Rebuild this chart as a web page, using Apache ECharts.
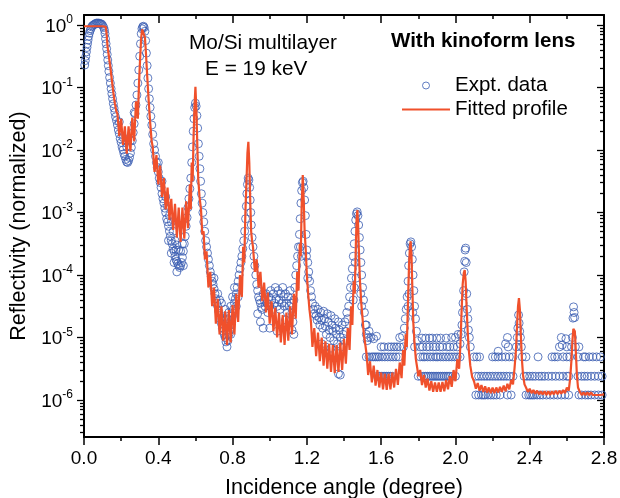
<!DOCTYPE html>
<html>
<head>
<meta charset="utf-8">
<script src="https://cdn.jsdelivr.net/npm/echarts@6/dist/echarts.min.js"></script>
<style>
html, body { margin: 0; padding: 0; background: #fff; }
#chart { width: 620px; height: 498px; }
</style>
</head>
<body>
<div id="chart"></div>
<script>
// values are [angle (deg), log10(reflectivity)]

// fitted profile, piece by piece between Bragg peaks
const fitEdge = [[0,-0.02],[0.05,-0.02],[0.1,-0.02],[0.117,-0.03],[0.122,-0.15],[0.127,-0.35],[0.134,-0.5],[0.142,-0.68],[0.15,-0.88],[0.158,-1.08],[0.166,-1.25],[0.174,-1.38],
  [0.18,-1.42],[0.19,-1.78],[0.2,-1.5],[0.21,-1.92],[0.22,-1.62],[0.23,-2.06],[0.24,-1.62],[0.25,-2.02],[0.26,-1.48],[0.27,-1.86],[0.28,-1.22],[0.29,-1.5],
  [0.296,-0.95],[0.302,-0.55],[0.308,-0.2],[0.313,-0.07],[0.318,-0.04],[0.323,-0.07],[0.328,-0.2],[0.333,-0.42],[0.34,-0.8],[0.348,-1.2],[0.356,-1.55],[0.364,-1.85]];
const fitBand12 = [[0.37,-1.95],[0.38,-2.35],[0.39,-2.08],[0.4,-2.55],[0.41,-2.25],[0.42,-2.75],[0.43,-2.45],[0.44,-2.95],[0.45,-2.6],[0.46,-3.12],[0.47,-2.78],[0.48,-3.28],
  [0.49,-2.86],[0.5,-3.4],[0.51,-2.92],[0.52,-3.47],[0.53,-2.92],[0.54,-3.42],[0.55,-2.82],[0.56,-3.25],[0.57,-2.55],[0.575,-2.95],[0.58,-2.2],[0.585,-2.5],
  [0.59,-1.8],[0.595,-1.3],[0.6,-0.99],[0.605,-1.35],[0.61,-1.9],[0.615,-2.45],[0.622,-2.75],[0.63,-2.95],[0.637,-3.35],[0.644,-3.3],[0.651,-3.75]];
const fitBand23 = [[0.66,-3.62],[0.67,-4.2],[0.68,-3.95],[0.69,-4.5],[0.7,-4.2],[0.71,-4.78],[0.72,-4.38],[0.73,-4.95],[0.74,-4.5],[0.75,-5.05],[0.76,-4.58],[0.77,-5.12],
  [0.78,-4.56],[0.79,-5.08],[0.8,-4.48],[0.81,-4.95],[0.82,-4.3],[0.83,-4.75],[0.84,-4.0],[0.85,-4.35],[0.857,-3.55],[0.863,-3.8],[0.869,-3.0],[0.875,-2.5],
  [0.88,-2.05],[0.885,-1.87],[0.89,-2.2],[0.895,-2.8],[0.9,-3.3],[0.905,-3.45]];
const fitBand34 = [[0.91,-3.55],[0.92,-3.95],[0.93,-3.75],[0.94,-4.2],[0.95,-3.95],[0.96,-4.42],[0.97,-4.12],[0.98,-4.6],[0.99,-4.28],[1.0,-4.78],[1.01,-4.42],[1.02,-4.9],
  [1.03,-4.52],[1.04,-5.0],[1.05,-4.6],[1.06,-5.08],[1.07,-4.64],[1.08,-5.12],[1.09,-4.6],[1.1,-5.05],[1.11,-4.5],[1.12,-4.95],[1.13,-4.3],[1.14,-4.7],
  [1.148,-3.95],[1.155,-4.25],[1.162,-3.5],[1.167,-3.7],[1.172,-2.9],[1.178,-2.4],[1.183,-2.8],[1.188,-3.3],[1.194,-3.6],[1.2,-4.0],[1.207,-4.3],[1.214,-4.55],[1.222,-4.75]];
const fitBand45 = [[1.23,-5.15],[1.24,-4.85],[1.25,-5.3],[1.26,-4.92],[1.27,-5.38],[1.28,-5.0],[1.29,-5.45],[1.3,-5.06],[1.31,-5.5],[1.32,-5.1],[1.33,-5.55],[1.34,-5.12],
  [1.35,-5.57],[1.36,-5.12],[1.37,-5.55],[1.38,-5.08],[1.39,-5.52],[1.4,-5.02],[1.41,-5.42],[1.42,-4.85],[1.43,-5.2],[1.438,-4.5],[1.445,-4.8],[1.452,-4.1],
  [1.458,-4.3],[1.464,-3.5],[1.468,-3.1],[1.472,-2.96],[1.476,-3.2],[1.48,-3.6],[1.486,-4.1],[1.493,-4.45],[1.5,-4.7],[1.507,-4.95],[1.515,-5.12],[1.522,-5.28]];
const fitBand56 = [[1.53,-5.6],[1.54,-5.38],[1.55,-5.72],[1.56,-5.45],[1.57,-5.77],[1.58,-5.52],[1.59,-5.8],[1.6,-5.56],[1.61,-5.83],[1.62,-5.58],[1.63,-5.84],[1.64,-5.58],
  [1.65,-5.83],[1.66,-5.56],[1.67,-5.8],[1.68,-5.5],[1.69,-5.76],[1.7,-5.4],[1.71,-5.65],[1.718,-5.2],[1.725,-5.45],[1.732,-4.95],[1.738,-5.15],[1.744,-4.5],
  [1.75,-3.85],[1.755,-3.55],[1.759,-3.46],[1.763,-3.65],[1.768,-4.2],[1.773,-4.75],[1.78,-5.1],[1.787,-5.35],[1.795,-5.5],[1.8,-5.62]];
const fitBand67 = [[1.81,-5.52],[1.82,-5.76],[1.83,-5.6],[1.84,-5.8],[1.85,-5.66],[1.86,-5.85],[1.87,-5.7],[1.88,-5.87],[1.89,-5.72],[1.9,-5.87],[1.91,-5.72],[1.92,-5.87],
  [1.93,-5.71],[1.94,-5.86],[1.95,-5.68],[1.96,-5.83],[1.97,-5.62],[1.98,-5.79],[1.99,-5.52],[2.0,-5.7],[2.01,-5.35],[2.02,-5.5],[2.027,-5.1],[2.033,-4.6],
  [2.039,-4.15],[2.045,-3.97],[2.05,-3.92],[2.055,-4.1],[2.06,-4.5],[2.066,-4.9],[2.072,-5.2],[2.08,-5.45],[2.09,-5.63],[2.1,-5.7]];
const fitBand78 = [[2.11,-5.82],[2.12,-5.73],[2.13,-5.85],[2.14,-5.76],[2.15,-5.87],[2.16,-5.78],[2.17,-5.88],[2.18,-5.8],[2.19,-5.89],[2.2,-5.8],[2.21,-5.89],[2.22,-5.8],
  [2.23,-5.88],[2.24,-5.79],[2.25,-5.87],[2.26,-5.77],[2.27,-5.86],[2.28,-5.74],[2.29,-5.83],[2.3,-5.68],[2.31,-5.75],[2.318,-5.5],[2.326,-5.2],[2.332,-4.8],
  [2.337,-4.5],[2.342,-4.37],[2.347,-4.55],[2.352,-4.95],[2.358,-5.35],[2.364,-5.6],[2.372,-5.75],[2.38,-5.8]];
const fitBand89 = [[2.39,-5.87],[2.4,-5.82],[2.41,-5.89],[2.42,-5.84],[2.43,-5.9],[2.44,-5.85],[2.45,-5.91],[2.46,-5.86],[2.47,-5.91],[2.48,-5.86],[2.49,-5.92],[2.5,-5.86],
  [2.51,-5.92],[2.52,-5.86],[2.53,-5.91],[2.54,-5.85],[2.55,-5.91],[2.56,-5.85],[2.57,-5.9],[2.58,-5.84],[2.59,-5.89],[2.6,-5.8],[2.61,-5.85],[2.618,-5.65],
  [2.625,-5.35],[2.63,-5.05],[2.635,-4.86],[2.639,-4.83],[2.643,-4.9],[2.648,-5.2],[2.654,-5.6],[2.66,-5.8],[2.67,-5.87]];
const fitTail = [[2.68,-5.92],[2.69,-5.88],[2.7,-5.92],[2.71,-5.88],[2.72,-5.92],[2.73,-5.88],[2.74,-5.92],[2.75,-5.89],[2.76,-5.92],[2.77,-5.89],[2.78,-5.92],[2.79,-5.89],[2.8,-5.91]];

// measured points
const exptEdge = [[0.004,-0.64],[0.007,-0.57],[0.01,-0.5],[0.013,-0.43],[0.016,-0.36],[0.019,-0.3],[0.022,-0.24],[0.025,-0.18],[0.029,-0.13],[0.033,-0.09],[0.037,-0.06],
  [0.041,-0.03],[0.046,-0.01],[0.051,0.0],[0.056,0.01],[0.061,0.02],[0.066,0.03],[0.071,0.03],[0.076,0.03],[0.081,0.03],[0.086,0.02],[0.091,0.02],[0.096,0.01],
  [0.101,-0.01],[0.106,-0.04],[0.11,-0.08],[0.113,-0.14],[0.116,-0.22],[0.119,-0.3],[0.122,-0.38],[0.125,-0.47],[0.128,-0.56],[0.131,-0.65],[0.134,-0.74],
  [0.138,-0.84],[0.142,-0.93],[0.146,-1.02],[0.15,-1.1],[0.154,-1.18],[0.158,-1.26],[0.162,-1.33],[0.166,-1.4],[0.17,-1.47],[0.175,-1.53],
  [0.18,-1.6],[0.185,-1.68],[0.19,-1.74],[0.195,-1.82],[0.2,-1.88],[0.205,-1.95],[0.21,-2.0],[0.215,-2.06],[0.22,-2.1],[0.225,-2.15],[0.23,-2.19],[0.235,-2.2],
  [0.24,-2.17],[0.245,-2.12],[0.25,-2.05],[0.255,-1.96],[0.26,-1.85],[0.265,-1.72],[0.27,-1.58],[0.275,-1.42],[0.28,-1.28],[0.285,-1.12],[0.29,-0.93],
  [0.295,-0.72],[0.3,-0.5],[0.304,-0.3],[0.308,-0.14],[0.312,-0.06],[0.316,-0.03],[0.32,-0.02],[0.324,-0.04],[0.328,-0.1],[0.332,-0.25],[0.336,-0.45],
  [0.34,-0.65],[0.344,-0.85],[0.348,-1.02],[0.352,-1.18],[0.356,-1.32],[0.36,-1.46],
  [0.19,-1.55],[0.21,-1.8],[0.23,-1.95],[0.25,-1.85],[0.27,-1.4]];
const exptBand12 = [[0.365,-1.6],[0.37,-1.75],[0.375,-1.9],[0.38,-2.0],[0.385,-2.1],[0.39,-2.2],[0.395,-2.28],[0.4,-2.35],[0.405,-2.45],[0.41,-2.52],[0.415,-2.6],
  [0.42,-2.7],[0.425,-2.78],[0.43,-2.85],[0.435,-2.93],[0.44,-3.0],[0.445,-3.1],[0.45,-3.15],[0.455,-3.22],[0.46,-3.3],[0.465,-3.38],[0.47,-3.45],[0.475,-3.5],
  [0.48,-3.58],[0.485,-3.62],[0.49,-3.7],[0.495,-3.75],[0.5,-3.78],[0.505,-3.82],[0.51,-3.85],[0.515,-3.88],[0.52,-3.85],[0.525,-3.8],[0.53,-3.72],[0.535,-3.62],
  [0.54,-3.5],[0.545,-3.38],[0.55,-3.22],[0.555,-3.08],[0.56,-2.92],[0.565,-2.78],[0.57,-2.62],
  [0.4,-2.2],[0.42,-2.5],[0.44,-2.75],[0.45,-2.9],[0.46,-3.05],[0.47,-3.15],[0.48,-3.3],[0.49,-3.45],[0.5,-3.52],[0.51,-3.6],[0.52,-3.62],[0.53,-3.5],
  [0.535,-3.85],[0.5,-3.95],[0.495,-3.6],[0.485,-3.8],[0.47,-3.65],[0.455,-3.45],
  [0.575,-2.45],[0.58,-2.2],[0.584,-1.95],[0.588,-1.7],[0.592,-1.5],[0.596,-1.32],[0.6,-1.25],[0.604,-1.3],[0.608,-1.45],[0.612,-1.65],[0.616,-1.9],
  [0.62,-2.1],[0.624,-2.3],[0.628,-2.5],[0.632,-2.7],[0.636,-2.85],[0.64,-3.0],[0.645,-3.15],[0.65,-3.3],[0.655,-3.45],[0.66,-3.55],[0.665,-3.65]];
const exptBand23 = [[0.67,-3.75],[0.675,-3.85],[0.68,-3.95],[0.685,-4.02],[0.69,-4.1],[0.695,-4.15],[0.7,-4.22],[0.705,-4.3],[0.71,-4.38],[0.715,-4.45],[0.72,-4.5],
  [0.725,-4.58],[0.73,-4.65],[0.735,-4.7],[0.74,-4.78],[0.745,-4.85],[0.75,-4.9],[0.755,-4.95],[0.76,-5.0],[0.765,-5.07],[0.77,-5.15],[0.775,-5.05],[0.78,-4.95],
  [0.785,-4.88],[0.79,-4.8],[0.795,-4.72],[0.8,-4.65],[0.805,-4.55],[0.81,-4.45],[0.815,-4.38],[0.82,-4.3],[0.825,-4.2],[0.83,-4.1],[0.835,-4.0],[0.84,-3.9],
  [0.845,-3.8],[0.85,-3.7],[0.855,-3.58],[0.86,-3.45],[0.865,-3.3],[0.87,-3.1],
  [0.72,-4.3],[0.74,-4.45],[0.76,-4.55],[0.77,-4.7],[0.78,-4.6],[0.79,-4.5],[0.8,-4.35],[0.81,-4.2],[0.82,-4.5],[0.83,-4.35],[0.79,-4.95],[0.75,-4.7],[0.73,-4.4],[0.7,-4.05],
  [0.874,-2.9],[0.877,-2.7],[0.88,-2.55],[0.884,-2.45],[0.888,-2.48],[0.892,-2.6],[0.895,-2.8],[0.898,-3.0],[0.901,-3.2],[0.905,-3.4],[0.91,-3.55],[0.915,-3.7],[0.92,-3.85]];
const exptBand34 = [[0.925,-4.0],[0.93,-4.15],[0.935,-4.25],[0.94,-4.35],[0.945,-4.4],[0.95,-4.45],[0.955,-4.52],[0.96,-4.55],[0.965,-4.3],[0.97,-4.4],[0.975,-4.5],
  [0.98,-4.3],[0.985,-4.45],[0.99,-4.6],[0.995,-4.35],[1.0,-4.5],[1.005,-4.25],[1.01,-4.4],[1.015,-4.55],[1.02,-4.3],[1.025,-4.45],[1.03,-4.2],[1.035,-4.38],
  [1.04,-4.5],[1.045,-4.25],[1.05,-4.4],[1.055,-4.55],[1.06,-4.3],[1.065,-4.45],[1.07,-4.2],[1.075,-4.35],[1.08,-4.5],[1.085,-4.3],[1.09,-4.45],[1.095,-4.6],
  [1.1,-4.35],[1.105,-4.5],[1.11,-4.25],[1.115,-4.45],[1.12,-4.6],[1.125,-4.75],[1.13,-4.4],[1.135,-4.2],[1.14,-4.0],[1.145,-3.85],[1.15,-3.7],[1.155,-3.55],[1.16,-3.35],
  [0.935,-4.62],[0.95,-4.75],[0.965,-4.85],[1.0,-4.85],[1.04,-4.9],[1.085,-4.72],[1.12,-4.88],[1.13,-4.95],
  [1.164,-3.1],[1.168,-2.85],[1.172,-2.65],[1.176,-2.52],[1.18,-2.5],[1.184,-2.6],[1.188,-2.8],[1.192,-3.05],[1.196,-3.35],[1.2,-3.6],[1.205,-3.8],[1.21,-3.95],
  [1.215,-4.1],[1.22,-4.25],[1.225,-4.35],[1.165,-3.55],[1.17,-3.7],[1.198,-3.7],[1.205,-4.05]];
const exptBand45 = [[1.23,-4.45],[1.235,-4.55],[1.24,-4.62],[1.245,-4.5],[1.25,-4.65],[1.255,-4.72],[1.26,-4.55],[1.265,-4.68],[1.27,-4.8],[1.275,-4.6],[1.28,-4.72],
  [1.285,-4.85],[1.29,-4.58],[1.295,-4.7],[1.3,-4.82],[1.305,-4.95],[1.31,-4.62],[1.315,-4.75],[1.32,-4.88],[1.325,-5.0],[1.33,-4.65],[1.335,-4.8],[1.34,-4.9],
  [1.345,-5.05],[1.35,-4.7],[1.355,-4.85],[1.36,-4.95],[1.365,-5.1],[1.37,-4.75],[1.375,-4.88],[1.38,-5.0],[1.385,-5.15],[1.39,-4.8],[1.395,-4.95],[1.4,-5.05],
  [1.405,-4.75],[1.41,-4.9],[1.415,-4.6],[1.42,-4.7],[1.425,-4.5],[1.43,-4.35],[1.435,-4.2],[1.44,-4.05],[1.445,-3.9],[1.45,-3.7],
  [1.37,-5.58],[1.38,-5.6],[1.3,-5.15],[1.28,-5.1],[1.33,-5.17],
  [1.455,-3.5],[1.459,-3.3],[1.463,-3.12],[1.467,-3.02],[1.471,-2.99],[1.475,-3.05],[1.479,-3.2],[1.483,-3.4],[1.487,-3.6],[1.491,-3.8],[1.495,-4.0],[1.5,-4.2],
  [1.505,-4.4],[1.51,-4.6],[1.515,-4.8],[1.52,-4.95],[1.525,-5.05],[1.46,-3.8],[1.465,-4.05],[1.455,-4.2],[1.45,-4.4],[1.49,-4.3],[1.495,-4.5]];
const exptBand56 = [[1.53,-5.0],[1.545,-5.0],[1.56,-5.02],[1.575,-4.98],[1.7,-5.0],[1.715,-4.98],
  [1.6,-5.15],[1.615,-5.15],[1.64,-5.15],[1.655,-5.15],[1.67,-5.15],[1.685,-5.15],[1.7,-5.15],[1.72,-5.15],
  [1.52,-5.31],[1.535,-5.31],[1.55,-5.31],[1.56,-5.31],[1.57,-5.31],[1.58,-5.31],[1.59,-5.31],[1.605,-5.31],[1.62,-5.31],[1.635,-5.31],[1.65,-5.31],[1.665,-5.31],[1.68,-5.31],[1.695,-5.31],
  [1.58,-5.62],[1.59,-5.62],[1.6,-5.62],[1.61,-5.62],[1.62,-5.62],[1.63,-5.62],[1.64,-5.62],[1.65,-5.62],[1.66,-5.62],
  [1.52,-4.8],[1.535,-4.9],[1.725,-4.85],[1.73,-4.7],[1.735,-4.55],[1.74,-4.35],
  [1.745,-4.1],[1.748,-3.85],[1.752,-3.65],[1.756,-3.5],[1.76,-3.47],[1.764,-3.55],[1.768,-3.75],[1.772,-4.0],[1.776,-4.25],[1.78,-4.5],[1.785,-4.7],[1.79,-4.9],
  [1.795,-5.05],[1.75,-4.3],[1.77,-4.6],[1.745,-4.5],[1.78,-5.15]];
const exptBand67 = [[1.82,-5.01],[1.84,-5.01],[1.86,-5.01],[1.875,-5.01],[1.9,-5.01],[1.92,-5.01],[1.95,-5.01],[1.98,-5.0],[2.0,-5.0],[2.015,-4.95],
  [1.81,-5.15],[1.825,-5.15],[1.845,-5.15],[1.86,-5.15],[1.88,-5.15],[1.895,-5.15],[1.915,-5.15],[1.93,-5.15],[1.955,-5.15],[1.97,-5.15],[1.99,-5.15],[2.01,-5.15],
  [1.81,-5.31],[1.825,-5.31],[1.835,-5.31],[1.85,-5.31],[1.865,-5.31],[1.88,-5.31],[1.895,-5.31],[1.905,-5.31],[1.92,-5.31],[1.935,-5.31],[1.95,-5.31],
  [1.965,-5.31],[1.98,-5.31],[1.995,-5.31],[2.01,-5.31],[2.025,-5.31],
  [1.8,-5.62],[1.815,-5.62],[1.83,-5.62],[1.84,-5.62],[1.85,-5.62],[1.86,-5.62],[1.87,-5.62],[1.88,-5.62],[1.89,-5.62],[1.9,-5.62],[1.91,-5.62],[1.92,-5.62],
  [1.93,-5.62],[1.94,-5.62],[1.95,-5.62],[1.96,-5.62],[1.97,-5.62],[1.985,-5.62],[2.0,-5.62],
  [2.025,-5.1],[2.03,-4.95],[2.035,-4.8],[2.038,-4.6],[2.041,-4.45],[2.044,-4.25],[2.047,-3.95],[2.05,-3.78],[2.052,-3.6],[2.055,-3.57],[2.058,-3.8],
  [2.061,-4.3],[2.064,-4.55],[2.067,-4.7],[2.07,-4.88],[2.075,-5.0],[2.08,-5.15]];
const exptBand78 = [[2.23,-5.22],[2.284,-5.15],[2.28,-5.0],[2.27,-5.1],
  [2.1,-5.31],[2.115,-5.31],[2.13,-5.31],[2.2,-5.31],[2.215,-5.31],[2.23,-5.31],[2.25,-5.31],[2.27,-5.31],[2.29,-5.31],[2.31,-5.31],
  [2.11,-5.62],[2.125,-5.62],[2.14,-5.62],[2.155,-5.62],[2.17,-5.62],[2.185,-5.62],[2.2,-5.62],[2.215,-5.62],[2.23,-5.62],[2.245,-5.62],[2.26,-5.62],[2.275,-5.62],[2.29,-5.62],[2.31,-5.62],
  [2.11,-5.92],[2.125,-5.92],[2.14,-5.92],[2.15,-5.92],[2.16,-5.92],[2.175,-5.92],[2.19,-5.92],[2.205,-5.92],[2.22,-5.92],[2.24,-5.92],[2.28,-5.92],[2.3,-5.92],
  [2.328,-5.15],[2.333,-5.0],[2.336,-4.85],[2.34,-4.64],[2.343,-4.77],[2.346,-4.9],[2.35,-5.0],[2.355,-5.15],[2.36,-5.31]];
const exptBand89 = [[2.56,-5.15],[2.575,-5.12],[2.6,-5.15],[2.665,-5.15],[2.57,-5.0],[2.595,-5.02],
  [2.38,-5.31],[2.445,-5.31],[2.52,-5.31],[2.535,-5.31],[2.55,-5.31],[2.58,-5.31],[2.6,-5.31],[2.615,-5.31],[2.66,-5.31],[2.69,-5.31],[2.7,-5.31],[2.72,-5.31],
  [2.74,-5.31],[2.76,-5.31],[2.78,-5.31],
  [2.37,-5.62],[2.385,-5.62],[2.4,-5.62],[2.415,-5.62],[2.43,-5.62],[2.45,-5.62],[2.465,-5.62],[2.48,-5.62],[2.5,-5.62],[2.52,-5.62],[2.54,-5.62],[2.56,-5.62],
  [2.58,-5.62],[2.6,-5.62],[2.61,-5.62],[2.66,-5.62],[2.68,-5.62],[2.695,-5.62],[2.71,-5.62],[2.73,-5.62],[2.75,-5.62],[2.77,-5.62],[2.79,-5.62],
  [2.38,-5.92],[2.395,-5.92],[2.405,-5.92],[2.415,-5.92],[2.425,-5.92],[2.44,-5.92],[2.455,-5.92],[2.47,-5.92],[2.49,-5.92],[2.51,-5.92],[2.53,-5.92],[2.55,-5.92],
  [2.57,-5.92],[2.59,-5.92],[2.61,-5.92],[2.665,-5.92],[2.68,-5.92],[2.7,-5.92],[2.715,-5.92],[2.73,-5.92],[2.75,-5.92],[2.77,-5.92],[2.79,-5.92],
  [2.625,-5.15],[2.63,-5.0],[2.633,-4.69],[2.636,-4.51],[2.639,-4.6],[2.642,-4.68],[2.646,-5.15]];

// axes
const xTicks = { min: 0, max: 2.8, step: 0.4 };
const decades = [-6, -5, -4, -3, -2, -1, 0];
const minorMantissas = [2, 3, 4, 5, 6, 7, 8, 9];
const yRange = [-6.592, 0.16];

const minorTicks = [];
for (let d = -7; d <= 0; d++) {
    minorMantissas.forEach(m => {
        let v = d + Math.log10(m);
        if (v > yRange[0] && v < yRange[1]) minorTicks.push(v);
    });
}

const fitProfile = [].concat(fitEdge, fitBand12, fitBand23, fitBand34, fitBand45, fitBand56, fitBand67, fitBand78, fitBand89, fitTail);
const exptData = [].concat(exptEdge, exptBand12, exptBand23, exptBand34, exptBand45, exptBand56, exptBand67, exptBand78, exptBand89);

const FONT = '"Liberation Sans", Arial, sans-serif';
const BLUE = '#3a5cb2';
const RED = '#f0502b';
const NONE = 'rgba(255,255,255,0)';

function xAxisCfg(pos, inside, withLabel) {
    return {
        type: 'value', position: pos, min: xTicks.min, max: xTicks.max, interval: xTicks.step,
        axisLine: { onZero: false, lineStyle: { color: '#000', width: 2 } },
        axisTick: { inside: inside, length: 8, lineStyle: { color: '#000', width: 1.5 } },
        minorTick: { show: true, splitNumber: 2, length: 4, lineStyle: { color: '#000', width: 1.5 } },
        axisLabel: { show: withLabel, fontSize: 19, fontFamily: FONT, color: '#000', margin: 12,
            formatter: v => v.toFixed(1) },
        splitLine: { show: false },
        name: withLabel ? 'Incidence angle (degree)' : '',
        nameLocation: 'middle', nameGap: 40,
        nameTextStyle: { fontSize: 21.5, fontFamily: FONT, color: '#000' }
    };
}

function yAxisCfg(pos, inside, major) {
    let ticks = major ? decades : minorTicks;
    return {
        type: 'value', position: pos, min: yRange[0], max: yRange[1],
        axisLine: { show: major, onZero: false, lineStyle: { color: '#000', width: 2 } },
        axisTick: { show: true, inside: inside, length: major ? 7 : 4, customValues: ticks,
            lineStyle: { color: '#000', width: 1.3 } },
        axisLabel: { show: major && pos === 'left', customValues: decades, margin: 11,
            formatter: v => '{b|10}{s|' + v + '}',
            rich: {
                b: { fontSize: 19, fontFamily: FONT, color: '#000', lineHeight: 22, verticalAlign: 'bottom' },
                s: { fontSize: 12, fontFamily: FONT, color: '#000', lineHeight: 12, verticalAlign: 'top' }
            } },
        splitLine: { show: false },
        name: (major && pos === 'left') ? 'Reflectivity (normalized)' : '',
        nameLocation: 'middle', nameGap: 50, nameRotate: 90,
        nameTextStyle: { fontSize: 21.5, fontFamily: FONT, color: '#000' }
    };
}

const chart = echarts.init(document.getElementById('chart'), null, { renderer: 'canvas' });
chart.setOption({
    animation: false,
    backgroundColor: '#fff',
    grid: { left: 84, right: 16, top: 15, bottom: 61, containLabel: false, outerBoundsMode: 'none' },
    xAxis: [xAxisCfg('bottom', false, true), xAxisCfg('top', true, false)],
    yAxis: [yAxisCfg('left', false, true), yAxisCfg('left', false, false),
            yAxisCfg('right', true, true), yAxisCfg('right', true, false)],
    legend: {
        orient: 'vertical', left: 396, top: 70, padding: 5, itemWidth: 48, itemHeight: 7, itemGap: 3,
        textStyle: { fontSize: 20.5, fontFamily: FONT, color: '#000', lineHeight: 20 },
        data: [
            { name: 'Expt. data', icon: 'circle', itemStyle: { color: NONE, borderColor: BLUE, borderWidth: 1 } },
            { name: 'Fitted profile', itemStyle: { color: NONE, borderColor: NONE, borderWidth: 0 },
              lineStyle: { color: RED, width: 2 } }
        ]
    },
    graphic: [
        { type: 'text', left: 189, top: 33, style: { text: 'Mo/Si multilayer', font: '20.8px ' + FONT, fill: '#000' } },
        { type: 'text', left: 205, top: 59, style: { text: 'E = 19 keV', font: '20.8px ' + FONT, fill: '#000' } },
        { type: 'text', left: 391, top: 31, style: { text: 'With kinoform lens', font: 'bold 20.5px ' + FONT, fill: '#000' } }
    ],
    series: [
        {
            name: 'Expt. data', type: 'scatter', data: exptData, symbol: 'circle', symbolSize: 8,
            itemStyle: { color: NONE, borderColor: BLUE, borderWidth: 1 },
            z: 2
        },
        {
            name: 'Fitted profile', type: 'line', data: fitProfile, symbol: 'none', showSymbol: false,
            lineStyle: { color: RED, width: 2.2 }, itemStyle: { color: RED },
            z: 3
        }
    ]
});
</script>
</body>
</html>
